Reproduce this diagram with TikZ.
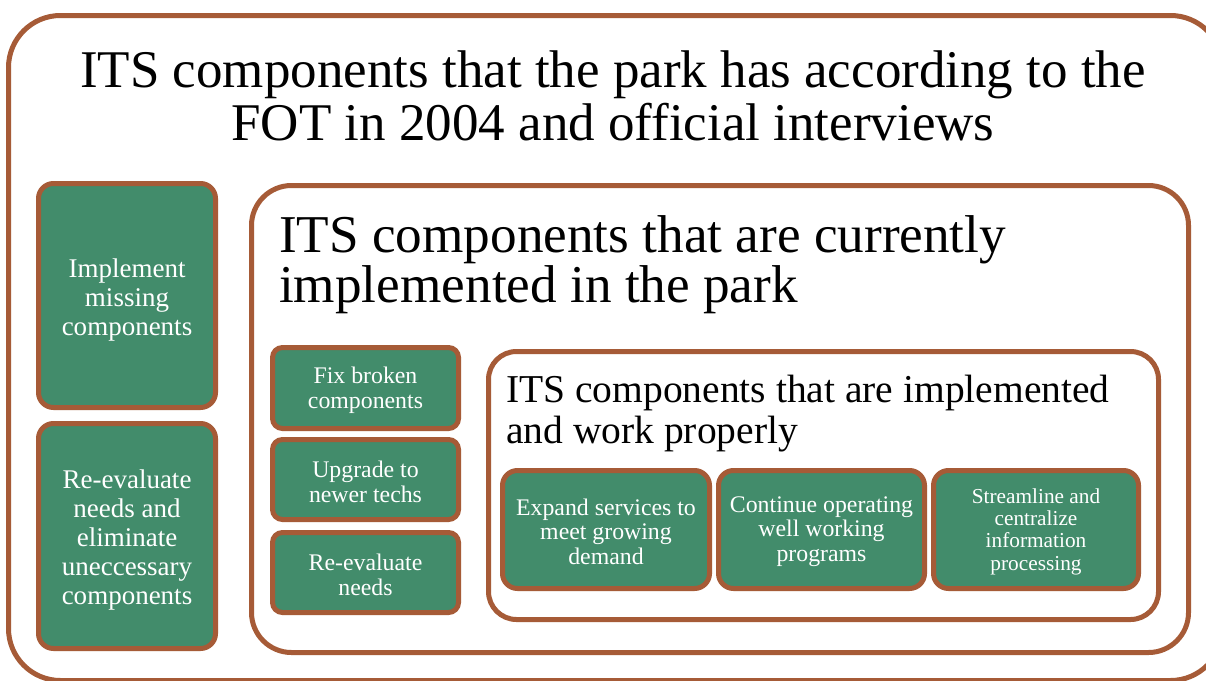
\documentclass[tikz,border=0pt]{standalone}
\usepackage{fontspec}
\setmainfont{Liberation Serif}
\definecolor{brn}{RGB}{166,91,55}
\definecolor{grn}{RGB}{66,140,107}
% centred lines, lowered by half of the extra top space #1
\newcommand{\tiletext}[3]{\parbox{#2}{\vspace*{#1}\centering #3}}
\begin{document}
\begin{tikzpicture}[x=1pt,y=-1pt,
  frame/.style={rectangle, draw=brn, line width=5pt, fill=white, inner sep=0pt, anchor=north west},
  tile/.style={rectangle, draw=brn, line width=5pt, fill=grn, text=white, align=center,
    inner sep=0pt, rounded corners=#1},
  tile/.default=14pt,
  heading/.style={text=black, inner sep=0pt}]
\useasboundingbox (0,0) rectangle (1206,680);
\clip (0,0) rectangle (1206,680);

% nested frames
\node[frame, rounded corners=52pt, minimum width=1214pt, minimum height=665pt] (outer) at (6,13) {};
\node[frame, rounded corners=40pt, minimum width=937pt, minimum height=467pt] (middle) at (249,183) {};
\node[frame, rounded corners=28pt, minimum width=670pt, minimum height=268pt] (inner) at (486,349) {};

% frame headings (anchored on the baseline of their last line)
\node[heading, anchor=base, align=center, font=\fontsize{53}{53}\selectfont] (t1) at (613,140)
  {ITS components that the park has according to the\\FOT in 2004 and official interviews};
\node[heading, anchor=base west, align=left, font=\fontsize{53.2}{47}\selectfont] (t2) at (279,302)
  {ITS components that are currently\\implemented in the park};
\node[heading, anchor=base west, align=left, font=\fontsize{39.5}{41}\selectfont] (t3) at (506,443)
  {ITS components that are implemented\\and work properly};

% outer actions
\node[tile=15pt, minimum width=177pt, minimum height=224pt, font=\fontsize{27}{29}\selectfont] (impl) at (127,295.5)
  {\tiletext{9pt}{170pt}{Implement\\missing\\components}};
\node[tile=15pt, minimum width=177pt, minimum height=225pt, font=\fontsize{27}{29}\selectfont] (reeval) at (127,536)
  {\tiletext{7pt}{170pt}{Re-evaluate\\needs and\\eliminate\\uneccessary\\components}};

% middle actions
\node[tile=10pt, minimum width=186pt, minimum height=81pt, font=\fontsize{23.8}{25}\selectfont] (fix) at (365.5,388)
  {\tiletext{5pt}{180pt}{Fix broken\\components}};
\node[tile=10pt, minimum width=186pt, minimum height=80pt, font=\fontsize{23.8}{25}\selectfont] (upg) at (365.5,479.5)
  {\tiletext{5pt}{180pt}{Upgrade to\\newer techs}};
\node[tile=10pt, minimum width=186pt, minimum height=80pt, font=\fontsize{23.8}{25}\selectfont] (needs) at (365.5,572.5)
  {\tiletext{5pt}{180pt}{Re-evaluate\\needs}};

% inner actions
\node[tile=15pt, minimum width=207pt, minimum height=118pt, font=\fontsize{23.8}{24.5}\selectfont] (expand) at (606,529.5)
  {\tiletext{4pt}{200pt}{Expand services to\\meet growing\\demand}};
\node[tile=15pt, minimum width=206pt, minimum height=118pt, font=\fontsize{23.8}{24.5}\selectfont] (cont) at (821.5,529.5)
  {\tiletext{4pt}{200pt}{Continue operating\\well working\\programs}};
\node[tile=15pt, minimum width=205pt, minimum height=118pt, font=\fontsize{21.3}{22.3}\selectfont] (stream) at (1036,529.5)
  {\tiletext{4pt}{200pt}{Streamline and\\centralize\\information\\processing}};
\end{tikzpicture}
\end{document}
